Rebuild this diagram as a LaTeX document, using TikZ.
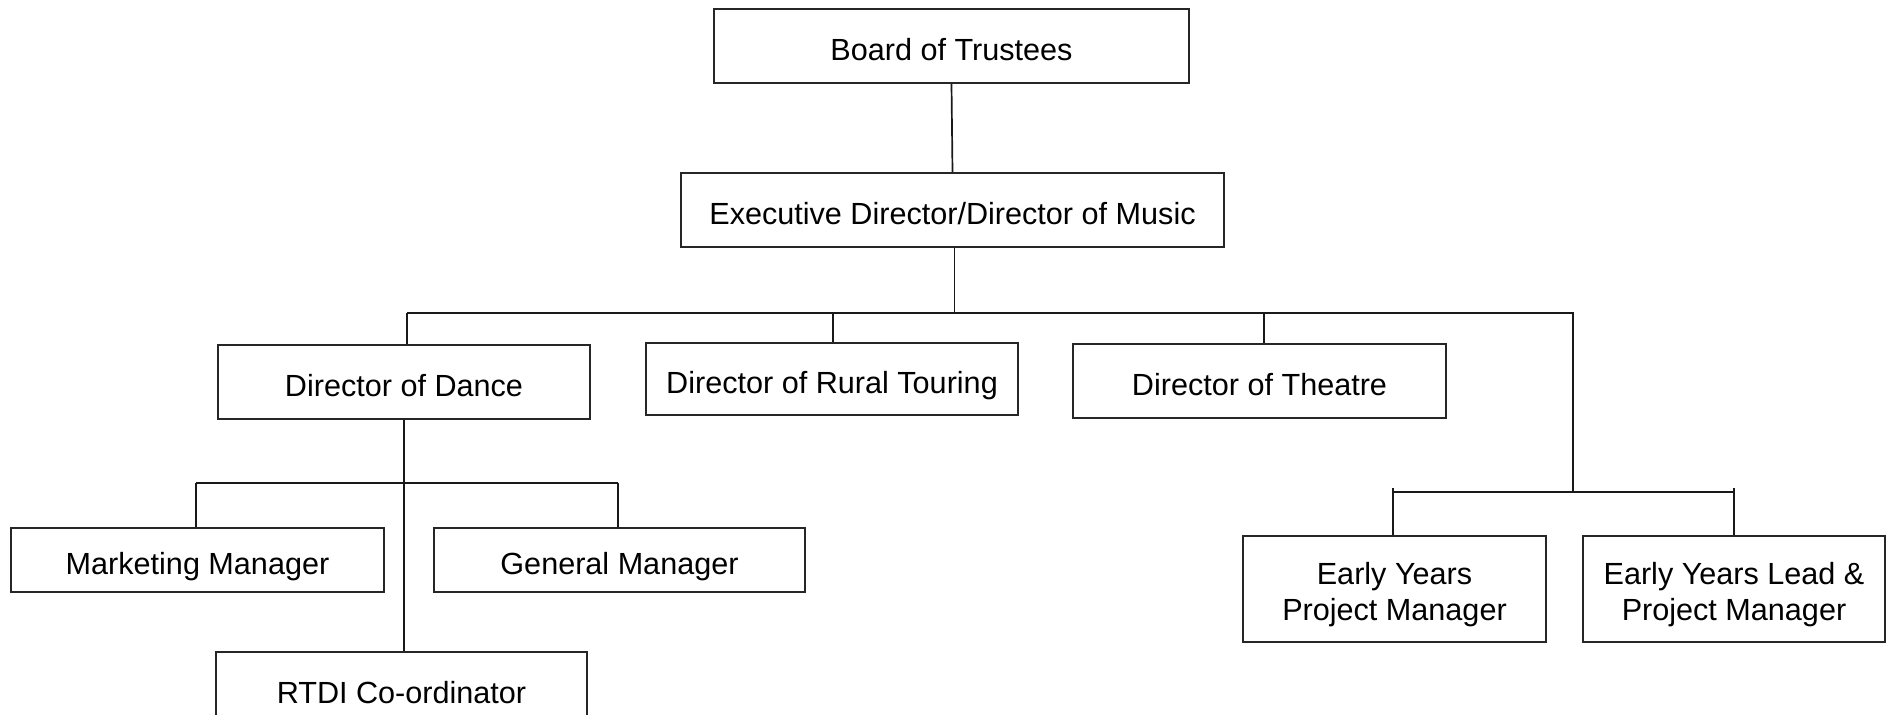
\documentclass[tikz,border=0pt]{standalone}
\usepackage{fontspec}
\setmainfont{Liberation Sans}
\begin{document}
\begin{tikzpicture}[x=0.5pt,y=-0.5pt,
  box/.style={draw=black!85,line width=0.9pt,inner sep=0pt,align=center,
    text height=14pt,text depth=0pt,
    font=\fontsize{15.3}{18.4}\selectfont},
  twobox/.style={box,text height=31.8pt,text depth=0pt},
  conn/.style={draw=black!90,line width=0.85pt}]
\useasboundingbox (0,0) rectangle (1887,714);
\clip (0,0) rectangle (1887,714);
\fill[white] (0,0) rectangle (1887,714);
% boxes
\node[box,minimum width=237.5pt,minimum height=37pt] (board) at (951.5,46) {Board of Trustees};
\node[box,minimum width=271.5pt,minimum height=37pt] (exec) at (952.5,210) {Executive Director/Director of Music};
\node[box,minimum width=186pt,minimum height=37pt] (dance) at (404,382) {Director of Dance};
\node[box,minimum width=186pt,minimum height=36pt] (rural) at (832,379) {Director of Rural Touring};
\node[box,minimum width=186.5pt,minimum height=37pt] (theatre) at (1259.5,381) {Director of Theatre};
\node[box,minimum width=186.5pt,minimum height=32pt] (marketing) at (197.5,560) {Marketing Manager};
\node[box,minimum width=185.5pt,minimum height=32pt] (general) at (619.5,560) {General Manager};
\node[box,minimum width=185.5pt,minimum height=37pt] (rtdi) at (401.5,689) {RTDI Co-ordinator};
\node[twobox,minimum width=151.5pt,minimum height=53pt] (eypm) at (1394.5,589) {Early Years\\Project Manager};
\node[twobox,minimum width=151pt,minimum height=53pt] (eylead) at (1734,589) {Early Years Lead \&\\Project Manager};
% bus coordinates
\coordinate (busL) at (407,313);
\coordinate (busR) at (1573,313);
\coordinate (ebus) at (1573,492);
\coordinate (ebL) at (1393,492);
\coordinate (ebR) at (1734,492);
\coordinate (sbL) at (196,483);
\coordinate (sbR) at (618,483);
% connectors
\draw[conn] (board.south) -- (exec.north);
\draw[conn] ([xshift=1pt]exec.south) -- ([xshift=1pt]exec.south |- busL);
\draw[conn] (busL) -- (busR) -- (ebus);
\draw[conn] (busL) -- (busL |- dance.north);
\draw[conn] (833,313) -- (833,313 |- rural.north);
\draw[conn] (1264,313) -- (1264,313 |- theatre.north);
\draw[conn] (ebL) -- (ebR);
\draw[conn] ([yshift=2pt]ebL) -- (ebL |- eypm.north);
\draw[conn] ([yshift=2pt]ebR) -- (ebR |- eylead.north);
\draw[conn] (dance.south) -- (dance.south |- rtdi.north);
\draw[conn] (sbL) -- (sbR);
\draw[conn] (sbL) -- (sbL |- marketing.north);
\draw[conn] (sbR) -- (sbR |- general.north);
\end{tikzpicture}
\end{document}
